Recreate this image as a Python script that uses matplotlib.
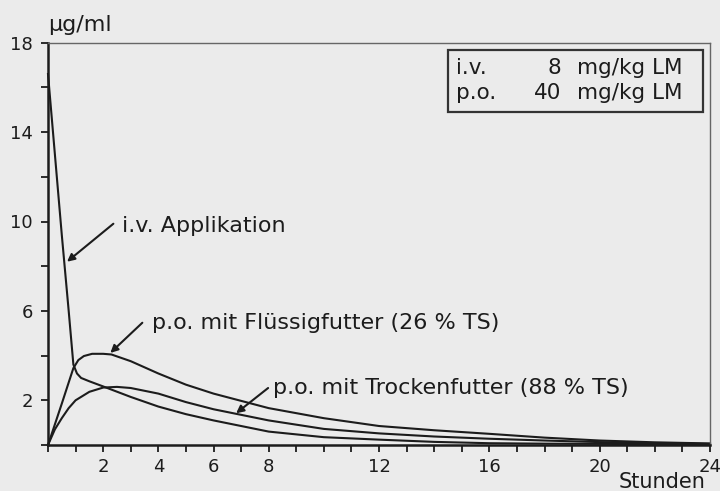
import matplotlib
matplotlib.use("Agg")
import matplotlib.pyplot as plt
from matplotlib.patches import Rectangle

# Serumkonzentration (µg/ml) über die Zeit (Stunden)
iv_t = [0, 0.25, 0.5, 0.75, 0.92, 1.05, 1.2, 1.5, 2, 3, 4, 5, 6, 8, 10, 12, 14, 16, 18, 20, 22, 24]
iv_c = [16.6, 13.0, 9.4, 6.0, 3.6, 3.2, 3.0, 2.85, 2.62, 2.15, 1.72, 1.38, 1.1, 0.6, 0.35, 0.24, 0.14, 0.08, 0.06, 0.05, 0.04, 0.03]

flu_t = [0, 0.5, 0.92, 1.1, 1.3, 1.6, 2.0, 2.3, 3, 4, 5, 6, 8, 10, 12, 14, 16, 18, 20, 22, 24]
flu_c = [0, 1.85, 3.44, 3.8, 3.98, 4.08, 4.08, 4.05, 3.75, 3.2, 2.7, 2.3, 1.65, 1.2, 0.85, 0.66, 0.5, 0.33, 0.2, 0.12, 0.07]

tro_t = [0, 0.25, 0.5, 0.75, 1, 1.5, 2, 2.5, 3, 4, 5, 6, 8, 10, 12, 14, 16, 18, 20, 22, 24]
tro_c = [0, 0.7, 1.2, 1.65, 2.0, 2.38, 2.57, 2.6, 2.55, 2.3, 1.92, 1.6, 1.1, 0.72, 0.52, 0.38, 0.28, 0.2, 0.13, 0.08, 0.05]

x_ticks = list(range(0, 25))
x_labels = ["2", "4", "6", "8", "12", "16", "20", "24"]
y_ticks = list(range(0, 19, 2))
y_labels = ["2", "6", "10", "14", "18"]

BG = "#ebebeb"
INK = "#1c1c1c"

fig = plt.figure(figsize=(7.2, 4.91), dpi=100, facecolor=BG)
ax = fig.add_axes([48 / 720, 1 - 445 / 491, 662 / 720, 402.3 / 491])
ax.set_facecolor(BG)

for t, c in [(iv_t, iv_c), (flu_t, flu_c), (tro_t, tro_c)]:
    ax.plot(t, c, color=INK, lw=1.5, solid_joinstyle="round", clip_on=False)

ax.set_xlim(0, 24)
ax.set_ylim(0, 18)

ax.set_xticks(x_ticks)
ax.set_xticklabels([str(v) if str(v) in x_labels else "" for v in x_ticks])
ax.set_yticks(y_ticks)
ax.set_yticklabels([str(v) if str(v) in y_labels else "" for v in y_ticks])
ax.tick_params(direction="out", length=5, width=1.3, color=INK, labelsize=13,
               labelcolor=INK, pad=4)
ax.tick_params(axis="y", pad=6)

for s in ["left", "bottom"]:
    ax.spines[s].set_linewidth(1.8)
    ax.spines[s].set_color(INK)
for s in ["top", "right"]:
    ax.spines[s].set_linewidth(1.0)
    ax.spines[s].set_color("#666666")

fig.text(48 / 720, 1 - 25 / 491, "µg/ml", fontsize=16, color=INK, ha="left", va="center")
fig.text(706 / 720, 1 - 488 / 491, "Stunden", fontsize=15, color=INK, ha="right", va="baseline")

arrow = dict(arrowstyle="-|>", color=INK, lw=1.5, mutation_scale=11, shrinkA=0, shrinkB=0)
ax.annotate("", xy=(0.69, 8.2), xytext=(2.37, 9.9), arrowprops=arrow)
ax.text(2.69, 9.78, "i.v. Applikation", fontsize=16, color=INK, ha="left", va="center")
ax.annotate("", xy=(2.26, 4.12), xytext=(3.42, 5.47), arrowprops=arrow)
ax.text(3.78, 5.47, "p.o. mit Flüssigfutter (26 % TS)", fontsize=16, color=INK,
        ha="left", va="center")
ax.annotate("", xy=(6.82, 1.42), xytext=(7.98, 2.55), arrowprops=arrow)
ax.text(8.16, 2.54, "p.o. mit Trockenfutter (88 % TS)", fontsize=16, color=INK,
        ha="left", va="center")

# Dosierungskasten
ax.add_patch(Rectangle((0.604, 0.828), 0.385, 0.154, transform=ax.transAxes,
                       fill=False, lw=1.6, edgecolor="#333333"))
rows = [("i.v.", "8", 0.937), ("p.o.", "40", 0.875)]
for route, dose, yy in rows:
    ax.text(0.617, yy, route, transform=ax.transAxes, fontsize=15.5, color=INK, ha="left", va="center")
    ax.text(0.776, yy, dose, transform=ax.transAxes, fontsize=15.5, color=INK, ha="right", va="center")
    ax.text(0.799, yy, "mg/kg LM", transform=ax.transAxes, fontsize=15.5, color=INK, ha="left", va="center")

fig.savefig("out.png", dpi=100, facecolor=BG)
